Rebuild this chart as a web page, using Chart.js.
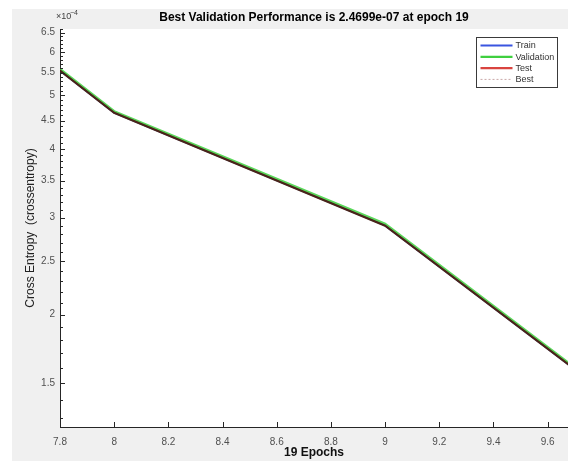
<!DOCTYPE html>
<html>
<head>
<meta charset="utf-8">
<script src="https://cdn.jsdelivr.net/npm/chart.js@4.4.0/dist/chart.umd.min.js"></script>
<style>
  html, body { margin: 0; padding: 0; background: #fff; }
  #wrap { width: 568px; height: 461px; position: relative; }
</style>
</head>
<body>
<div id="wrap"><canvas id="perfChart" width="568" height="461"></canvas></div>
<script>
// values in units of 1e-4 (the axis shows the x10^-4 multiplier)
const epochs = [7, 8, 9, 10];
const trainPerf = [11.25, 4.655, 2.905, 1.232];
const valPerf = [11.31, 4.68, 2.925, 1.238];
const testPerf = [11.24, 4.65, 2.90, 1.23];

const xTicks = [7.8, 8, 8.2, 8.4, 8.6, 8.8, 9, 9.2, 9.4, 9.6];
const xTickLabels = ['7.8', '8', '8.2', '8.4', '8.6', '8.8', '9', '9.2', '9.4', '9.6'];
const yTicks = [1.5, 2, 2.5, 3, 3.5, 4, 4.5, 5, 5.5, 6, 6.5];
const yTickLabels = ['1.5', '2', '2.5', '3', '3.5', '4', '4.5', '5', '5.5', '6', '6.5'];
const yMinorTicks = [1.3, 1.4, 1.6, 1.7, 1.8, 1.9, 2.1, 2.2, 2.3, 2.4, 2.6, 2.7, 2.8, 2.9,
  3.1, 3.2, 3.3, 3.4, 3.6, 3.7, 3.8, 3.9, 4.1, 4.2, 4.3, 4.4, 4.6, 4.7, 4.8, 4.9,
  5.1, 5.2, 5.3, 5.4, 5.6, 5.7, 5.8, 5.9, 6.1, 6.2, 6.3, 6.4, 6.6];

const legendLabels = ['Train', 'Validation', 'Test', 'Best'];
const legendColors = ['#3a55e0', '#3fcf3f', '#d9443f', '#c9a8a8'];

const titleText = 'Best Validation Performance is 2.4699e-07 at epoch 19';
const FONT = '"Liberation Sans", Arial, sans-serif';

const toPts = (ys) => epochs.map((e, i) => ({ x: e, y: ys[i] }));

// figure background, axes decorations, legend
const matlabLook = {
    id: 'matlabLook',
    beforeDraw(chart) {
        const { ctx, chartArea: a } = chart;
        ctx.save();
        ctx.fillStyle = '#f0f0f0';
        ctx.fillRect(12, 9, chart.width - 12, chart.height - 9);
        ctx.fillStyle = '#ffffff';
        ctx.fillRect(a.left, a.top, a.right - a.left, a.bottom - a.top);
        ctx.restore();
    },
    afterDraw(chart) {
        const { ctx, chartArea: a } = chart;
        const xs = chart.scales.x, ys = chart.scales.y;
        ctx.save();
        // inward ticks
        ctx.strokeStyle = '#262626';
        ctx.lineWidth = 1;
        ctx.beginPath();
        yTicks.forEach(v => {
            const p = Math.round(ys.getPixelForValue(v)) + 0.5;
            ctx.moveTo(a.left, p); ctx.lineTo(a.left + 5, p);
        });
        yMinorTicks.forEach(v => {
            const p = Math.round(ys.getPixelForValue(v)) + 0.5;
            if (p < a.top || p > a.bottom) return;
            ctx.moveTo(a.left, p); ctx.lineTo(a.left + 3, p);
        });
        xTicks.forEach(v => {
            const p = Math.round(xs.getPixelForValue(v)) + 0.5;
            ctx.moveTo(p, a.bottom); ctx.lineTo(p, a.bottom - 5);
        });
        ctx.stroke();

        // title
        ctx.fillStyle = '#000';
        ctx.font = 'bold 12px ' + FONT;
        ctx.textAlign = 'center';
        ctx.textBaseline = 'middle';
        ctx.fillText(titleText, (a.left + a.right) / 2, 18);

        // exponent
        ctx.font = '9px ' + FONT;
        ctx.fillStyle = '#404040';
        ctx.textAlign = 'left';
        ctx.fillText('\u00d710', 56, 17);
        ctx.font = '7px ' + FONT;
        ctx.fillText('\u22124', 70, 13);

        // legend box
        const bx = 476.5, by = 37.5, bw = 81, bh = 50;
        ctx.fillStyle = '#fff';
        ctx.fillRect(bx, by, bw, bh);
        ctx.strokeStyle = '#3a3a3a';
        ctx.strokeRect(bx, by, bw, bh);
        ctx.font = '9px ' + FONT;
        ctx.textAlign = 'left';
        ctx.textBaseline = 'middle';
        legendLabels.forEach((lab, i) => {
            const y = by + 8 + i * 11.3;
            ctx.strokeStyle = legendColors[i];
            ctx.lineWidth = i === 3 ? 1 : 2.2;
            ctx.setLineDash(i === 3 ? [2, 2] : []);
            ctx.beginPath();
            ctx.moveTo(bx + 4, y); ctx.lineTo(bx + 36, y);
            ctx.stroke();
            ctx.setLineDash([]);
            ctx.fillStyle = '#333';
            ctx.fillText(lab, bx + 39, y + 0.5);
        });
        ctx.restore();
    }
};

new Chart(document.getElementById('perfChart').getContext('2d'), {
    type: 'line',
    data: {
        datasets: [
            { label: 'Train', data: toPts(trainPerf), borderColor: '#3040d0', borderWidth: 2.2, order: 3 },
            { label: 'Validation', data: toPts(valPerf), borderColor: '#5ad85a', borderWidth: 2.2, order: 2 },
            { label: 'Test', data: toPts(testPerf), borderColor: '#4a2418', borderWidth: 2.2, order: 1 }
        ]
    },
    options: {
        responsive: false,
        animation: false,
        events: [],
        layout: { padding: { top: 29, left: 0, right: 0, bottom: 0 } },
        elements: { point: { radius: 0 }, line: { tension: 0 } },
        datasets: { line: { clip: 0 } },
        plugins: { legend: { display: false }, tooltip: { enabled: false }, title: { display: false } },
        scales: {
            x: {
                type: 'linear',
                min: 7.8,
                max: 9.675,
                afterFit: (s) => { s.height = 34; },
                afterBuildTicks: (s) => { s.ticks = xTicks.map(v => ({ value: v })); },
                grid: { display: false, drawTicks: false },
                border: { display: true, color: '#262626', width: 1 },
                ticks: {
                    padding: 9,
                    color: '#505050',
                    font: { family: FONT, size: 10 },
                    callback: (v) => xTickLabels[xTicks.indexOf(v)]
                },
                title: {
                    display: true,
                    text: '19 Epochs',
                    color: '#111',
                    font: { family: FONT, size: 12, weight: 'bold' },
                    padding: { top: 0, bottom: 1 }
                }
            },
            y: {
                type: 'logarithmic',
                min: 1.25,
                max: 6.6,
                bounds: 'data',
                afterFit: (s) => { s.width = 60; },
                afterBuildTicks: (s) => { s.ticks = yTicks.map(v => ({ value: v })); },
                grid: { display: false, drawTicks: false },
                border: { display: true, color: '#262626', width: 1 },
                ticks: {
                    padding: 5,
                    color: '#505050',
                    font: { family: FONT, size: 10 },
                    callback: (v) => yTickLabels[yTicks.indexOf(v)]
                },
                title: {
                    display: true,
                    text: 'Cross Entropy  (crossentropy)',
                    color: '#222',
                    font: { family: FONT, size: 12 },
                    padding: { top: 23, bottom: 0 }
                }
            }
        }
    },
    plugins: [matlabLook]
});
</script>
</body>
</html>
